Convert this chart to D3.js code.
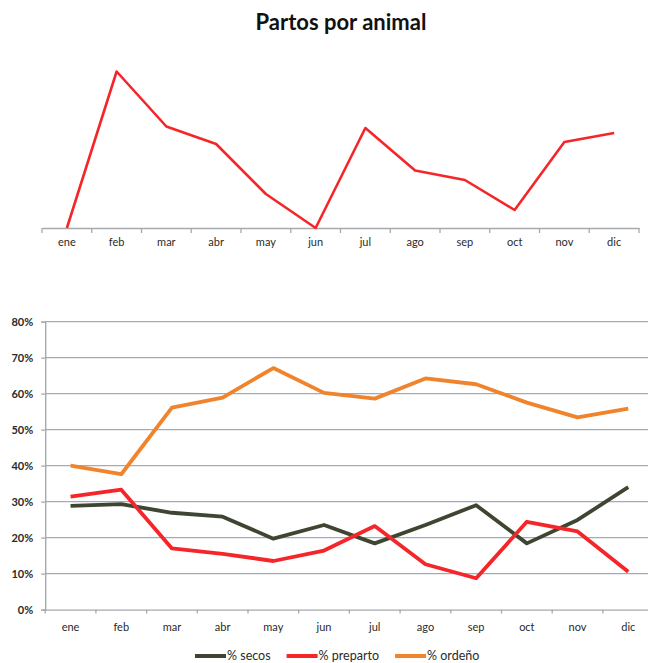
<!DOCTYPE html>
<html>
<head>
<meta charset="utf-8">
<script src="https://cdn.jsdelivr.net/npm/d3@7"></script>
<style>
  body { margin: 0; background: #fff; }
  svg { display: block; font-family: Lato, "Open Sans", sans-serif; }
</style>
</head>
<body>
<svg id="chart" width="648" height="663"></svg>
<script>
// months shared by both charts
const months = ["ene", "feb", "mar", "abr", "may", "jun", "jul", "ago", "sep", "oct", "nov", "dic"];

// top chart: partos por animal (no axis shown)
const partos = [0, 0.1565, 0.1015, 0.084, 0.034, 0, 0.100, 0.0575, 0.048, 0.018, 0.086, 0.095];

// bottom chart: herd composition percentages
const secos    = [0.288, 0.293, 0.269, 0.258, 0.197, 0.235, 0.184, 0.235, 0.290, 0.184, 0.249, 0.340];
const preparto = [0.314, 0.333, 0.170, 0.155, 0.135, 0.164, 0.232, 0.126, 0.087, 0.244, 0.217, 0.105];
const ordeno   = [0.400, 0.376, 0.561, 0.589, 0.671, 0.602, 0.586, 0.642, 0.626, 0.575, 0.534, 0.558];

const yTicks = [0, 0.1, 0.2, 0.3, 0.4, 0.5, 0.6, 0.7, 0.8];

const seriesNames  = ["% secos", "% preparto", "% ordeño"];
const seriesColors = ["#3e4631", "#f4262a", "#f0842c"];
const seriesData   = [secos, preparto, ordeno];

const svg = d3.select("#chart");
const textColor = "#2a2a2a";

// ---------- Title ----------
svg.append("text")
    .attr("x", 341).attr("y", 30)
    .attr("text-anchor", "middle")
    .attr("font-size", 22).attr("font-weight", "bold")
    .attr("fill", "#111")
    .text("Partos por animal");

// ---------- Top chart ----------
const xTop = d3.scaleBand().domain(months).range([42, 639]);
const yTop = d3.scaleLinear().domain([0, 0.16]).range([228, 68]);

const topAxis = svg.append("g")
    .attr("transform", "translate(0," + yTop(0) + ")")
    .call(d3.axisBottom(xTop).tickSize(0).tickPadding(10));
topAxis.select(".domain").attr("stroke", "#a6a9ad").attr("stroke-width", 1.5);
topAxis.selectAll("text").attr("font-size", 11).attr("fill", textColor).attr("font-family", "Lato, sans-serif");

// boundary ticks between the categories
const topBounds = months.map(m => xTop(m)).concat([xTop.range()[1]]);
svg.append("g").selectAll("line").data(topBounds).join("line")
    .attr("x1", d => d).attr("x2", d => d)
    .attr("y1", yTop(0)).attr("y2", yTop(0) + 5)
    .attr("stroke", "#a6a9ad").attr("stroke-width", 1.3);

const topLine = d3.line()
    .x((d, i) => xTop(months[i]) + xTop.bandwidth() / 2)
    .y(d => yTop(d));

svg.append("path")
    .datum(partos)
    .attr("d", topLine)
    .attr("fill", "none")
    .attr("stroke", "#f4262a")
    .attr("stroke-width", 2.6)
    .attr("stroke-linejoin", "round");

// ---------- Bottom chart ----------
const x = d3.scaleBand().domain(months).range([45.2, 653.6]);
const y = d3.scaleLinear().domain([0, 0.8]).range([609.6, 321.6]);

// gridlines
svg.append("g").selectAll("line").data(yTicks.filter(t => t > 0)).join("line")
    .attr("x1", x.range()[0]).attr("x2", 648)
    .attr("y1", d => y(d)).attr("y2", d => y(d))
    .attr("stroke", "#a3abb6").attr("stroke-width", 1.4);

// y axis
const yAxis = svg.append("g")
    .attr("transform", "translate(" + x.range()[0] + ",0)")
    .call(d3.axisLeft(y).tickValues(yTicks).tickFormat(d3.format(".0%")).tickSize(4).tickPadding(8));
yAxis.select(".domain").attr("stroke", "#a6a9ad").attr("stroke-width", 1.4);
yAxis.selectAll(".tick line").attr("stroke", "#a6a9ad").attr("stroke-width", 1.3);
yAxis.selectAll("text").attr("font-size", 11).attr("font-weight", "bold").attr("fill", textColor).attr("font-family", "Lato, sans-serif");

// x axis
const xAxis = svg.append("g")
    .attr("transform", "translate(0," + y(0) + ")")
    .call(d3.axisBottom(x).tickSize(0).tickPadding(14));
xAxis.select(".domain").attr("stroke", "#a6a9ad").attr("stroke-width", 1.4);
xAxis.selectAll("text").attr("font-size", 11).attr("fill", textColor).attr("font-family", "Lato, sans-serif");

const bounds = months.map(m => x(m)).concat([x.range()[1]]);
svg.append("g").selectAll("line").data(bounds).join("line")
    .attr("x1", d => d).attr("x2", d => d)
    .attr("y1", y(0)).attr("y2", y(0) + 4)
    .attr("stroke", "#a6a9ad").attr("stroke-width", 1.3);

const line = d3.line()
    .x((d, i) => x(months[i]) + x.bandwidth() / 2)
    .y(d => y(d));

svg.append("g").selectAll("path").data(seriesData).join("path")
    .attr("d", d => line(d))
    .attr("fill", "none")
    .attr("stroke", (d, i) => seriesColors[i])
    .attr("stroke-width", 3.8)
    .attr("stroke-linejoin", "round");

// legend
const legend = svg.append("g").attr("transform", "translate(0,656)");
let cursor = 195;
seriesNames.forEach((name, i) => {
    legend.append("line")
        .attr("x1", cursor).attr("x2", cursor + 31)
        .attr("y1", 0).attr("y2", 0)
        .attr("stroke", seriesColors[i]).attr("stroke-width", 4);
    const t = legend.append("text")
        .attr("x", cursor + 32).attr("y", 4)
        .attr("font-size", 12.5).attr("fill", textColor)
        .text(name);
    cursor += 32 + t.node().getComputedTextLength() + 16;
});
</script>
</body>
</html>
